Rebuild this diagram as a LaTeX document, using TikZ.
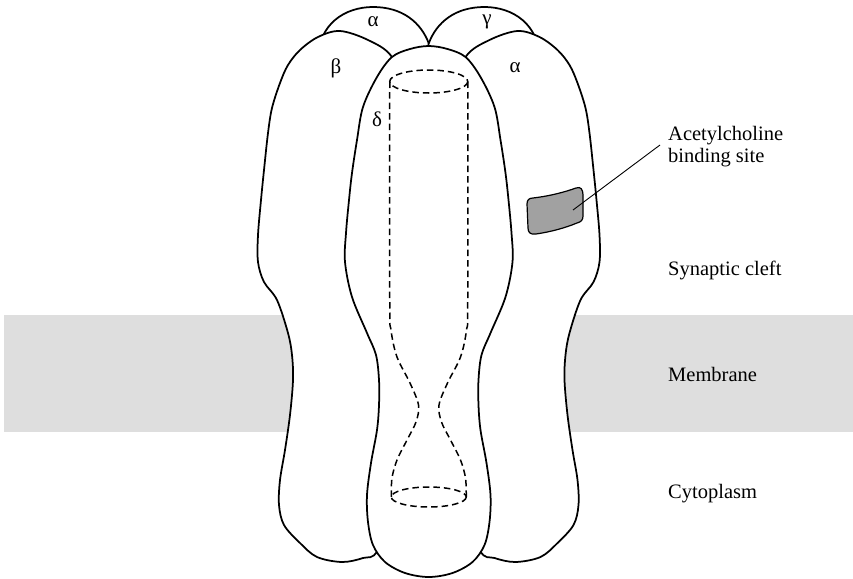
\documentclass[tikz,border=0pt]{standalone}
\usepackage{fontspec}
\setmainfont{Liberation Serif}
% side subunit (beta); the alpha on the right is its mirror image
\newcommand\sideunit{%
  \filldraw[outline] plot[smooth cycle, tension=0.55] coordinates {
    (392,57) (368,40) (340,31) (318,37) (300,50) (288,65) (280,83) (272,108)
    (268,133) (264,170) (261,200) (258,235) (258,262) (264,282) (277,300)
    (288,333) (292,355) (293,380) (290,415) (285,450) (280,480) (279,505)
    (284,525) (300,543) (317,557) (342,562) (363,558) (378,550)
    (402,490) (415,350) (418,200) (410,100)};}
% rear subunit lobe (alpha at the back); gamma is its mirror image
\newcommand\rearlobe{%
  \filldraw[outline] (318,60) .. controls (318,24) and (345,7) .. (373,7)
    .. controls (402,7) and (421,22) .. (429,44) -- (429,110) -- (330,110) -- cycle;}
\begin{document}
\begin{tikzpicture}[x=1pt,y=-1pt,
  outline/.style={draw=black, line width=1.75pt, fill=white, line join=round},
  pore/.style={draw=black, line width=1.5pt, dash pattern=on 6.5pt off 4pt},
  greek/.style={font=\fontsize{21}{24}\selectfont, inner sep=0pt, anchor=base},
  region/.style={font=\fontsize{20.5}{24}\selectfont, inner sep=0pt, anchor=base west},
  mirror/.style={shift={(857.5,0)}, xscale=-1}]
\useasboundingbox (0,0) rectangle (853,578);

% membrane band
\fill[black!13] (4,315) rectangle (853,432);

% rear subunits
\rearlobe
\begin{scope}[mirror]\rearlobe\end{scope}

% side subunits
\sideunit
\begin{scope}[mirror]\sideunit\end{scope}

% front subunit (delta)
\filldraw[outline] plot[smooth cycle, tension=0.55] coordinates {
  (428.75,46) (410,49) (392,57) (377,77) (363,107) (357,140) (352,173)
  (349,200) (346,233) (345,262) (352,297) (367,333) (376,355) (379,380)
  (379,405) (377,430) (371,463) (367,495) (368,522) (373,545) (385,562)
  (405,573) (428.75,577) (452.5,573) (472.5,562) (484.5,545) (489.5,522)
  (490.5,495) (486.5,463) (480.5,430) (478.5,405) (478.5,380) (481.5,355)
  (490.5,333) (505.5,297) (512.5,262) (511.5,233) (508.5,200) (505.5,173)
  (500.5,140) (494.5,107) (480.5,77) (465.5,57) (447.5,49)};

% ion channel through the centre
\draw[pore] (428.75,81.5) ellipse [x radius=39, y radius=11.5];
\draw[pore] plot[smooth, tension=0.55] coordinates {
  (389.75,81.5) (389.75,300) (391,330) (397,357) (410,383) (418.5,405)
  (416,422) (407,440) (397,460) (392,478) (391.25,497)};
\draw[pore] plot[smooth, tension=0.55] coordinates {
  (467.75,81.5) (467.75,300) (466.5,330) (460.5,357) (447.5,383) (439,405)
  (441.5,422) (450.5,440) (460.5,460) (465.5,478) (466.25,497)};
\draw[pore] (428.75,497) ellipse [x radius=37.5, y radius=10];

% acetylcholine binding site
\filldraw[draw=black, line width=1.2pt, fill=black!37]
  (533,198) .. controls (550,196) and (565,192) .. (576,188)
  .. controls (581,186) and (583,190) .. (583,195) -- (583,216)
  .. controls (583,220) and (581,222) .. (577,223)
  .. controls (565,228) and (550,232) .. (536,234)
  .. controls (530,235) and (528,232) .. (528,228) -- (527,204)
  .. controls (527,200) and (529,198) .. (533,198) -- cycle;
\coordinate (site) at (573,210);
\coordinate (leadend) at (660,145);
\draw[line width=0.9pt] (site) -- (leadend);

% subunit letters
\node[greek] (alphaback) at (373,27) {α};
\node[greek] (gammaback) at (487,25) {γ};
\node[greek] (betaside) at (336,74) {β};
\node[greek] (alphaside) at (515,72) {α};
\node[greek] (deltafront) at (377,126) {δ};

% region labels
\node[region] (ach1) at (668,140) {Acetylcholine};
\node[region] (ach2) at (668,162) {binding site};
\node[region] (cleft) at (668,275) {Synaptic cleft};
\node[region] (memb) at (668,381) {Membrane};
\node[region] (cyto) at (668,498) {Cytoplasm};
\end{tikzpicture}
\end{document}
